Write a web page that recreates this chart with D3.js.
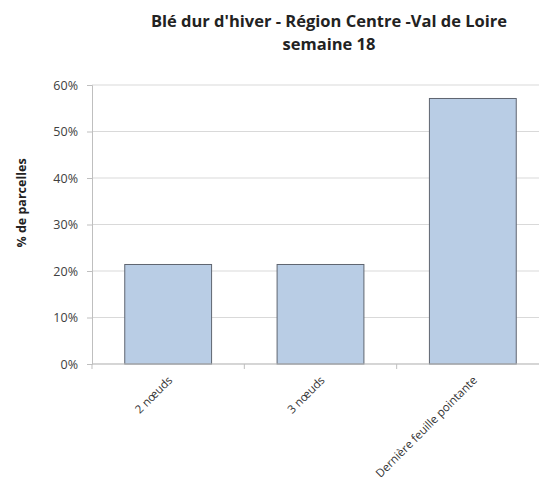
<!DOCTYPE html>
<html>
<head>
<meta charset="utf-8">
<script src="https://cdn.jsdelivr.net/npm/d3@7"></script>
<style>
  body { margin: 0; background: #fff; }
  text { font-family: "Open Sans", sans-serif; }
</style>
</head>
<body>
<div id="chart"></div>
<script>
// Chart data
const categories = ['2 nœuds', '3 nœuds', 'Dernière feuille pointante'];
const values = [0.214, 0.214, 0.571];
const yTicks = [0, 0.1, 0.2, 0.3, 0.4, 0.5, 0.6];

const width = 539;
const height = 477;
const margin = { top: 85, left: 92, bottom: 113 };
const plotWidth = 457;

const svg = d3.select('#chart')
    .append('svg')
    .attr('width', width)
    .attr('height', height);

// Scales
const x = d3.scaleBand()
    .domain(categories)
    .range([margin.left, margin.left + plotWidth])
    .paddingInner(0.43)
    .paddingOuter(0.215);

const y = d3.scaleLinear()
    .domain([0, 0.6])
    .range([height - margin.bottom, margin.top]);

// Gridlines
svg.append('g')
    .selectAll('line')
    .data(yTicks)
    .enter()
    .append('line')
    .attr('x1', margin.left)
    .attr('x2', margin.left + plotWidth)
    .attr('y1', d => y(d))
    .attr('y2', d => y(d))
    .attr('stroke', '#d9d9d9')
    .attr('stroke-width', 1);

// Y axis
const yAxis = svg.append('g')
    .attr('transform', `translate(${margin.left},0)`)
    .call(d3.axisLeft(y).tickValues(yTicks).tickFormat(d3.format('.0%')).tickSize(5).tickPadding(9));
yAxis.select('.domain').attr('stroke', '#bfbfbf');
yAxis.selectAll('.tick line').attr('stroke', '#bfbfbf');
yAxis.selectAll('.tick text')
    .attr('fill', '#404040')
    .style('font-size', '12.5px')
    .style('font-family', '"Open Sans", sans-serif');

// Bars
svg.append('g')
    .selectAll('rect')
    .data(values)
    .enter()
    .append('rect')
    .attr('x', (d, i) => x(categories[i]))
    .attr('y', d => y(d))
    .attr('width', x.bandwidth())
    .attr('height', d => y(0) - y(d))
    .attr('fill', '#b9cde5')
    .attr('stroke', '#5f6570')
    .attr('stroke-width', 1);

// X axis line and category boundary ticks
const step = x.step();
svg.append('line')
    .attr('x1', margin.left)
    .attr('x2', margin.left + plotWidth)
    .attr('y1', y(0))
    .attr('y2', y(0))
    .attr('stroke', '#bfbfbf');
svg.append('g')
    .selectAll('line')
    .data(d3.range(categories.length + 1))
    .enter()
    .append('line')
    .attr('x1', i => margin.left + i * step)
    .attr('x2', i => margin.left + i * step)
    .attr('y1', y(0))
    .attr('y2', y(0) + 5)
    .attr('stroke', '#bfbfbf');

// Category labels
svg.append('g')
    .selectAll('text')
    .data(categories)
    .enter()
    .append('text')
    .attr('transform', d => `translate(${x(d) + x.bandwidth() / 2 + 5}, ${y(0) + 17}) rotate(-45)`)
    .attr('text-anchor', 'end')
    .attr('fill', '#333')
    .style('font-size', '11.5px')
    .text(d => d);

// Title
svg.append('text')
    .attr('x', 329)
    .attr('y', 27)
    .attr('text-anchor', 'middle')
    .attr('font-weight', 'bold')
    .attr('fill', '#222')
    .style('font-size', '16.5px')
    .text("Blé dur d'hiver - Région Centre -Val de Loire");
svg.append('text')
    .attr('x', 329)
    .attr('y', 50)
    .attr('text-anchor', 'middle')
    .attr('font-weight', 'bold')
    .attr('fill', '#222')
    .style('font-size', '16.5px')
    .text('semaine 18');

// Y axis title
svg.append('text')
    .attr('transform', 'translate(26, 203) rotate(-90)')
    .attr('text-anchor', 'middle')
    .attr('font-weight', 'bold')
    .attr('fill', '#222')
    .style('font-size', '12.5px')
    .text('% de parcelles');
</script>
</body>
</html>
